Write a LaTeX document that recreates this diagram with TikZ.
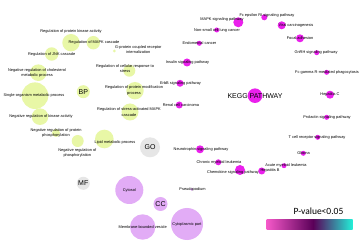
\documentclass[tikz,border=0pt]{standalone}
\usepackage{fontspec}
\setmainfont{Liberation Sans}
\newfontfamily\legendfont{Carlito}
\pgfdeclarelayer{bg}\pgfsetlayers{bg,main}
\definecolor{keggc}{HTML}{EA20EC}
\definecolor{bpc}{HTML}{E8F7A6}
\definecolor{ccc}{HTML}{E2ACF6}
\definecolor{goc}{HTML}{E6E6E6}
\definecolor{kedgec}{HTML}{C4C4C4}
\definecolor{bedgec}{HTML}{D0D0D0}
\definecolor{gpink}{HTML}{F458C8}
\definecolor{gdark}{HTML}{5A0058}
\definecolor{gmid}{HTML}{2A6080}
\definecolor{gteal}{HTML}{22F0D8}
\begin{document}
\begin{tikzpicture}[x=1pt,y=-1pt,
  dot/.style={circle,inner sep=0pt,minimum size=#1},
  kdot/.style={dot=#1,fill=keggc},
  bdot/.style={dot=#1,fill=bpc},
  cdot/.style={dot=#1,fill=ccc},
  gdot/.style={dot=#1,fill=goc},
  lab/.style={font=\fontsize{3.9}{5.4}\selectfont,inner sep=0pt,align=center},
  hub/.style={font=\fontsize{7}{8}\selectfont,inner sep=0pt},
  kedge/.style={draw=kedgec,line width=1.2pt},
  bedge/.style={draw=bedgec,line width=0.6pt}]
\useasboundingbox (0,0) rectangle (364,248);
\fill[white] (0,0) rectangle (364,248);
% hubs
\node[kdot=14.6pt] (kegg) at (255,95.7) {};
\node[gdot=20pt] (go) at (150,147.3) {};
\node[bdot=13pt] (bp) at (83.3,91.7) {};
\node[gdot=13pt] (mf) at (83.3,183.3) {};
\node[cdot=14pt] (cc) at (160.5,204) {};
\begin{pgfonlayer}{bg}
\draw[bedge,line width=0.8pt] (go) -- (bp);
\draw[bedge,line width=0.8pt] (go) -- (mf);
\draw[bedge,line width=0.9pt,draw=kedgec] (go) -- (cc);
\draw[bedge,line width=0.8pt] (go) -- (kegg);
\end{pgfonlayer}
% KEGG children
\foreach \n/\x/\y/\d/\lx/\ly/\t in {
 1/264.3/17.3/6/267/15.5/Fc epsilon RI signaling pathway,
 2/238.3/22.3/10/222/19.5/MAPK signaling pathway,
 3/216.7/30/5/217/30/Non-small cell lung cancer,
 4/199.3/43.3/5/199.5/43.3/Endometrial cancer,
 5/187/62.5/8/187.5/62/Insulin signaling pathway,
 6/180/83.3/7/180.5/83.3/ErbB signaling pathway,
 7/179.3/105/7/181/105/Renal cell carcinoma,
 8/200/149.3/8/201/149.3/Neurotrophin signaling pathway,
 9/218.3/162.3/6/219/162/Chronic myeloid leukemia,
 10/240/170/10/233/172/Chemokine signaling pathway,
 11/261.7/171/7/270/170.5/Hepatitis B,
 12/284/165.7/5/286/165.7/Acute myeloid leukemia,
 13/303.3/153.3/5/303.5/153.3/Glioma,
 14/317.7/137.3/5/317/137.3/T cell receptor signaling pathway,
 15/326.7/117.3/5/327/117.3/Prolactin signaling pathway,
 16/330/94.7/8/330/94.7/Hepatitis C,
 17/326.7/72.3/5/327/72.3/Fc gamma R-mediated phagocytosis,
 18/316.7/52.7/5/316/52.7/GnRH signaling pathway,
 19/300/38.3/8/300/38.3/Focal adhesion,
 20/281.7/25.3/8/296/25/Viral carcinogenesis}
{\node[kdot=\d pt] (k\n) at (\x,\y) {};
 \begin{pgfonlayer}{bg}\draw[kedge] (kegg) -- (k\n);\end{pgfonlayer}
 \node[lab] (kl\n) at (\lx,\ly) {\t};}
% BP children
\foreach \n/\x/\y/\d/\w in {
 1/71/42.7/17.4/0.6, 2/93.3/42.7/13.4/0.6, 3/51.7/54/13.4/0.6, 4/114.3/51/3/0.6,
 5/38.3/72.7/16.6/0.6, 6/129.3/70.7/12/0.6, 7/135/90.7/17.4/1.2, 8/35/95.7/26.6/0.6,
 9/130/112/17/2.0, 10/40/116.7/16.6/0.6, 11/56/133/8/0.6, 12/77.7/141/12/0.6,
 13/104.3/139/18.6/0.6}
{\node[bdot=\d pt] (b\n) at (\x,\y) {};
 \begin{pgfonlayer}{bg}\draw[bedge,line width=\w pt] (bp) -- (b\n);\end{pgfonlayer}}
\node[lab] (bl1) at (71,31.7) {Regulation of protein kinase activity};
\node[lab] (bl2) at (94,42.7) {Regulation of MAPK cascade};
\node[lab] (bl3) at (51.7,54) {Regulation of JNK cascade};
\node[lab] (bl4) at (138.3,49.5) {G-protein coupled receptor\\internalization};
\node[lab] (bl5) at (37,73.2) {Negative regulation of cholesterol\\metabolic process};
\node[lab] (bl6) at (125,68.5) {Regulation of cellular response to\\stress};
\node[lab] (bl7) at (134,90.5) {Regulation of protein modification\\process};
\node[lab] (bl8) at (34,95.7) {Single-organism metabolic process};
\node[lab] (bl9) at (129,112) {Regulation of stress-activated MAPK\\cascade};
\node[lab] (bl10) at (41,116.7) {Negative regulation of kinase activity};
\node[lab] (bl11) at (56,133.2) {Negative regulation of protein\\phosphorylation};
\node[lab] (bl12) at (77.3,152.8) {Negative regulation of\\phosphorylation};
\node[lab] (bl13) at (115,142.7) {Lipid metabolic process};
% CC children
\node[cdot=28pt] (c1) at (129.3,190) {};
\node[cdot=3pt] (c2) at (191.7,189.3) {};
\node[cdot=25.4pt] (c3) at (142.7,227) {};
\node[cdot=32pt] (c4) at (187,224) {};
\begin{pgfonlayer}{bg}
\draw[kedge,line width=2.4pt] (cc) -- (c1);
\draw[bedge] (cc) -- (c2);
\draw[bedge] (cc) -- (c3);
\draw[bedge] (cc) -- (c4);
\end{pgfonlayer}
\node[lab] (cl1) at (129.3,190) {Cytosol};
\node[lab] (cl2) at (192.5,189.3) {Pseudopodium};
\node[lab] (cl3) at (142.7,227) {Membrane-bounded vesicle};
\node[lab] (cl4) at (187,224) {Cytoplasmic part};
% hub labels
\node[hub] (keggl) at (255,95.7) {KEGG PATHWAY};
\node[hub] (gol) at (150,147.3) {GO};
\node[hub] (bpl) at (83.3,91.7) {BP};
\node[hub] (mfl) at (83.3,183.3) {MF};
\node[hub] (ccl) at (160.5,204) {CC};
% legend
\node[font=\legendfont\fontsize{9.5}{11}\selectfont,inner sep=0pt] (leg) at (318.5,211.5) {P-value<0.05};
\shade[left color=gpink,right color=gdark] (266.7,220) rectangle (313.2,229);
\shade[left color=gdark,middle color=gmid,right color=gteal] (313,220) rectangle (352.7,229);
\end{tikzpicture}
\end{document}
